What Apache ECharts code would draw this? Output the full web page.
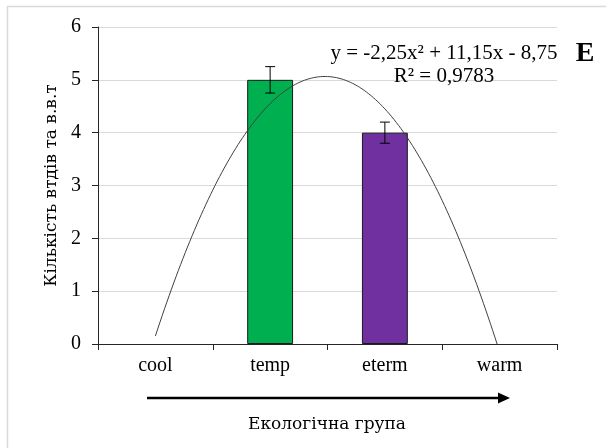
<!DOCTYPE html>
<html>
<head>
<meta charset="utf-8">
<script src="https://cdn.jsdelivr.net/npm/echarts@6/dist/echarts.min.js"></script>
<style>
  html, body { margin: 0; padding: 0; background: #fff; }
  #chart { width: 606px; height: 448px; }
</style>
</head>
<body>
<div id="chart"></div>
<script>
// Ecological groups along the x axis
const categories = ['cool', 'temp', 'eterm', 'warm'];
// Mean count per group and its error margin
const counts = [0, 5, 4, 0];
const errors = [0, 0.25, 0.2, 0];
const barColors = ['#00B050', '#00B050', '#7030A0', '#7030A0'];
// Polynomial trendline y = a*x^2 + b*x + c (x = group index from 1)
const trendCoef = [-2.25, 11.15, -8.75];
const trendLabel = 'y = -2,25x² + 11,15x - 8,75';
const r2Label = 'R² = 0,9783';
const yTicks = [0, 1, 2, 3, 4, 5, 6];

// Latin text and digits
const FONT = '"Liberation Serif", "Times New Roman", serif';
// Cyrillic titles need a serif face that carries the glyphs
const FONT_CYR = 'DejaVu Serif';

// sample the fitted curve across the groups
const trendPoints = [];
for (let i = 0; i <= 150; i++) {
  const x = 1 + i * 0.02;
  trendPoints.push([x, trendCoef[0] * x * x + trendCoef[1] * x + trendCoef[2]]);
}

const chart = echarts.init(document.getElementById('chart'), null, { renderer: 'canvas' });

chart.setOption({
  animation: false,
  backgroundColor: '#fff',
  grid: { left: 98, right: 49, top: 27, bottom: 104, containLabel: false },
  xAxis: [
    {
      type: 'category',
      data: categories,
      axisLine: { lineStyle: { color: '#262626', width: 1 } },
      axisTick: { show: true, length: 6, lineStyle: { color: '#262626' } },
      axisLabel: { fontFamily: FONT, fontSize: 20, color: '#000', margin: 12 }
    },
    {
      type: 'value',
      min: 0.5,
      max: 4.5,
      show: false
    }
  ],
  yAxis: {
    type: 'value',
    min: yTicks[0],
    max: yTicks[yTicks.length - 1],
    interval: 1,
    axisLine: { show: true, lineStyle: { color: '#262626', width: 1 } },
    axisTick: { show: true, length: 6, lineStyle: { color: '#262626' } },
    axisLabel: { fontFamily: FONT, fontSize: 20, color: '#000', margin: 17 },
    splitLine: { show: true, lineStyle: { color: '#d9d9d9', width: 1 } },
    name: 'Кількість втдів та в.в.т',
    nameLocation: 'middle',
    nameGap: 30,
    nameRotate: 90,
    nameTextStyle: { fontFamily: FONT_CYR, fontSize: 17, color: '#000' }
  },
  series: [
    {
      type: 'bar',
      xAxisIndex: 0,
      barWidth: '40%',
      data: counts.map((v, i) => ({
        value: v,
        itemStyle: { color: barColors[i], borderColor: '#1a1a1a', borderWidth: v ? 1 : 0 }
      })),
      z: 2
    },
    {
      type: 'custom',
      xAxisIndex: 0,
      data: counts.map((v, i) => [i, v, errors[i]]),
      renderItem: function (params, api) {
        const err = api.value(2);
        if (!err) return null;
        const idx = api.value(0);
        const v = api.value(1);
        const top = api.coord([idx, v + err]);
        const bot = api.coord([idx, v - err]);
        const hw = 5;
        const style = { stroke: '#000', lineWidth: 1 };
        return {
          type: 'group',
          children: [
            { type: 'line', shape: { x1: top[0], y1: top[1], x2: bot[0], y2: bot[1] }, style },
            { type: 'line', shape: { x1: top[0] - hw, y1: top[1], x2: top[0] + hw, y2: top[1] }, style },
            { type: 'line', shape: { x1: bot[0] - hw, y1: bot[1], x2: bot[0] + hw, y2: bot[1] }, style }
          ]
        };
      },
      z: 4
    },
    {
      type: 'line',
      xAxisIndex: 1,
      data: trendPoints,
      showSymbol: false,
      smooth: false,
      clip: true,
      lineStyle: { color: '#404040', width: 1 },
      z: 3
    }
  ],
  graphic: [
    {
      type: 'rect',
      shape: { x: 7.5, y: 6.5, width: 640, height: 480 },
      style: { fill: 'none', stroke: '#d9d9d9', lineWidth: 1.5 },
      z: 0
    },
    {
      type: 'text',
      x: 444, y: 53,
      style: { text: trendLabel, fontFamily: FONT, fontSize: 21, fill: '#000', align: 'center', verticalAlign: 'middle' },
      z: 10
    },
    {
      type: 'text',
      x: 444, y: 76,
      style: { text: r2Label, fontFamily: FONT, fontSize: 21, fill: '#000', align: 'center', verticalAlign: 'middle' },
      z: 10
    },
    {
      type: 'text',
      x: 585, y: 54,
      style: { text: 'E', fontFamily: FONT, fontSize: 28, fontWeight: 'bold', fill: '#000', align: 'center', verticalAlign: 'middle' },
      z: 10
    },
    {
      type: 'line',
      shape: { x1: 147, y1: 398, x2: 500, y2: 398 },
      style: { stroke: '#000', lineWidth: 2.5 },
      z: 10
    },
    {
      type: 'polygon',
      shape: { points: [[498, 392.5], [510, 398], [498, 403.5]] },
      style: { fill: '#000' },
      z: 10
    },
    {
      type: 'text',
      x: 327, y: 425,
      style: { text: 'Екологічна група', fontFamily: FONT_CYR, fontSize: 17, fill: '#000', align: 'center', verticalAlign: 'middle' },
      z: 10
    }
  ]
});
</script>
</body>
</html>
